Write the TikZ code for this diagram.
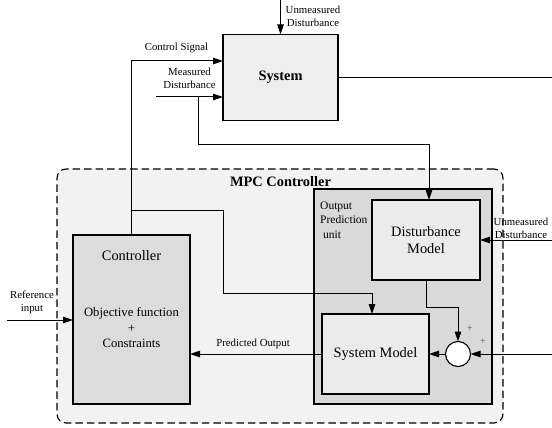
\documentclass[tikz,border=0pt]{standalone}
\usepackage{fontspec}
\setmainfont{Liberation Serif}
\usetikzlibrary{arrows.meta}
\definecolor{mpcfill}{HTML}{F2F2F2}
\definecolor{sysfill}{HTML}{EEEEEE}
\definecolor{ctrlfill}{HTML}{DCDCDC}
\definecolor{opufill}{HTML}{D9D9D9}
\definecolor{modfill}{HTML}{EBEBEB}
\definecolor{plusgray}{HTML}{555555}
\begin{document}
\begin{tikzpicture}[x=1pt,y=-1pt,
  box/.style={draw, line width=1.1pt, inner sep=0pt, outer sep=0pt},
  conn/.style={line width=1pt},
  arr/.style={conn, -{Triangle[length=10pt,width=6.5pt]}},
  small/.style={font=\fontsize{10.8}{13}\selectfont, align=center, inner sep=0pt},
  big/.style={font=\fontsize{14.4}{17.4}\selectfont, align=center, inner sep=0pt},
  plus/.style={inner sep=0pt, text=plusgray, font=\fontsize{10}{11}\selectfont}]
\useasboundingbox (0,0) rectangle (552,428);
% MPC container
\node[box, dash pattern=on 7.5pt off 4pt, rounded corners=9pt, fill=mpcfill,
      minimum width=446pt, minimum height=254pt] (mpc) at (280,296) {};
\node[big, font=\fontsize{14.4}{17.4}\selectfont\bfseries] (mpct) at (280.5,182) {MPC Controller};
% Output prediction unit
\node[box, fill=opufill, minimum width=178pt, minimum height=215pt] (opu) at (403,296.5) {};
\node[inner sep=0pt, align=left, anchor=north west, font=\fontsize{11.5}{14.5}\selectfont] (opul) at (320,201.5) {Output\\Prediction\\\ unit};
% blocks
\node[box, fill=sysfill, minimum width=115pt, minimum height=86pt, font=\fontsize{14.4}{17.4}\selectfont\bfseries] (sys) at (280.5,77.5) {System};
\node[box, fill=ctrlfill, minimum width=117pt, minimum height=169pt] (ctrl) at (131.5,319.5) {};
\node[big] (ctrlt) at (131.5,256) {Controller};
\node[inner sep=0pt, align=center, font=\fontsize{12.7}{15.5}\selectfont] (obj) at (131.5,328) {Objective function\\+\\Constraints};
\node[box, fill=modfill, minimum width=108pt, minimum height=80pt, big] (dm) at (426,240) {Disturbance\\Model};
\node[box, fill=modfill, minimum width=107pt, minimum height=80pt, big] (sm) at (375.5,354) {System Model};
\node[box, circle, fill=white, minimum size=25pt] (sum) at (458,354) {};
% coordinates
\coordinate (udtop) at (280.5,0);
\coordinate (cs) at (223,61);
\coordinate (mdstart) at (156,97);
\coordinate (md) at (223,97);
\coordinate (mdbranch) at (198,97);
\coordinate (dmin) at (429,200);
\coordinate (sysout) at (552,78);
\coordinate (refin) at (7,320);
\coordinate (ctrlbranch) at (131.5,210);
\coordinate (smin) at (372,314);
\coordinate (rin) at (552,354);
\coordinate (udright) at (552,240);
\coordinate (dmout) at (426,280);
% connectors
\draw[arr] (udtop) -- (sys.north);
\draw[arr] (ctrl.north) |- (cs);
\draw[arr] (mdstart) -- (md);
\draw[arr] (mdbranch) -- (198,144) -| (dmin);
\draw[conn] (sys.east |- sysout) -- (sysout);
\draw[arr] (refin) -- (ctrl.west |- refin);
\draw[arr] (ctrlbranch) -| (223,293) -| (smin);
\draw[arr] (sm.west) -- (ctrl.east |- sm.west);
\draw[arr] (sum.west) -- (sm.east);
\draw[arr] (rin) -- (sum.east);
\draw[arr] (dmout) |- (458,307) -- (sum.north);
\draw[arr] (udright) -- (dm.east |- udright);
% labels
\node[small] (l1) at (313,16) {Unmeasured\\Disturbance};
\node[small] (l2) at (176.5,47.5) {Control Signal};
\node[small] (l3) at (189.5,78.5) {Measured\\Disturbance};
\node[small] (l4) at (32,302) {Reference\\input};
\node[small] (l5) at (253,344) {Predicted Output};
\node[small] (l6) at (521,228) {Unmeasured\\Disturbance};
\node[plus] (p1) at (470,329) {+};
\node[plus] (p2) at (483,342) {+};
\end{tikzpicture}
\end{document}
